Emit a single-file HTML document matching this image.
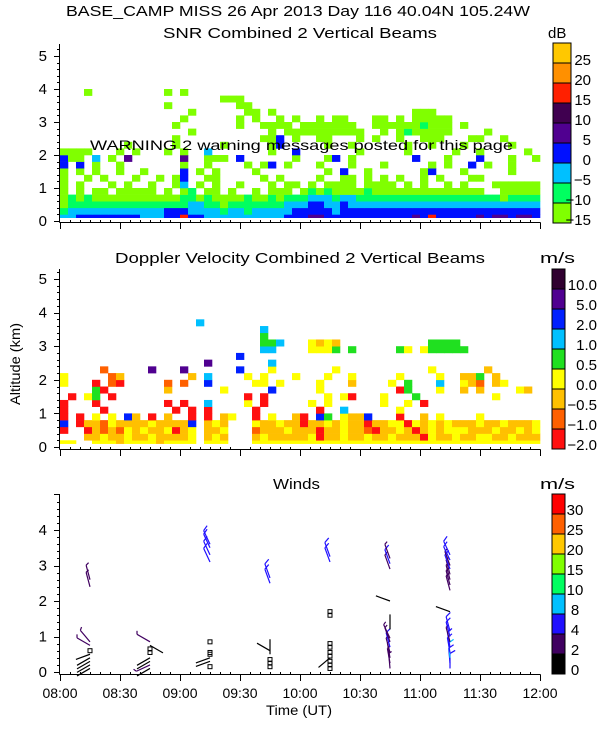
<!DOCTYPE html>
<html><head><meta charset="utf-8"><style>
html,body{margin:0;padding:0;background:#fff;}
svg{display:block;font-family:"Liberation Sans",sans-serif;}
</style></head><body>
<svg id="chart" width="600" height="750" viewBox="0 0 600 750" xmlns="http://www.w3.org/2000/svg">
<rect x="0" y="0" width="600" height="750" fill="#fff"/>
<text x="66" y="16" font-size="15" textLength="464" lengthAdjust="spacingAndGlyphs">BASE_CAMP MISS  26 Apr 2013 Day 116 40.04N 105.24W</text>
<text x="163" y="38" font-size="15" textLength="274" lengthAdjust="spacingAndGlyphs">SNR Combined 2 Vertical Beams</text>
<text x="115" y="263" font-size="15" textLength="370" lengthAdjust="spacingAndGlyphs">Doppler Velocity Combined 2 Vertical Beams</text>
<text x="273" y="489" font-size="15" textLength="47" lengthAdjust="spacingAndGlyphs">Winds</text>
<text x="548" y="38" font-size="15">dB</text>
<text x="540" y="263" font-size="15" textLength="35" lengthAdjust="spacingAndGlyphs">m/s</text>
<text x="540" y="489" font-size="15" textLength="35" lengthAdjust="spacingAndGlyphs">m/s</text>
<text transform="translate(20,405) rotate(-90)" font-size="14" textLength="82" lengthAdjust="spacingAndGlyphs">Altitude (km)</text>
<text x="266" y="715" font-size="14" textLength="66" lengthAdjust="spacingAndGlyphs">Time (UT)</text>
<g id="layer"></g>
<text x="90" y="150" font-size="14" textLength="423" lengthAdjust="spacingAndGlyphs">WARNING  2 warning messages posted for this page</text>
</svg>
<script>
// ---------- data ----------
const timeTicks = ["08:00","08:30","09:00","09:30","10:00","10:30","11:00","11:30","12:00"];
const snrLevels = ["25","20","15","10","5","0","\u22125","\u221210","\u221215"];
const snrColors = ["#80ff00","#00ff60","#00c0ff","#0010ff","#500090","#400050","#ff2000","#ff9000","#ffc800"];
const velLevels = ["10.0","5.0","2.0","1.0","0.5","0.0","\u22120.5","\u22121.0","\u22122.0"];
const velColors = ["#ff1010","#ff6000","#ffc000","#ffff00","#20e020","#00c0ff","#0020ff","#500090","#300030"];
const windLevels = ["30","25","20","15","10","8","4","2","0"];
const windColors = ["#000000","#400060","#2010ff","#00c0ff","#00ff60","#80ff00","#ffc800","#ff6000","#ff0000"];
const windBins = [0,2,4,8,10,15,20,25,30];
// heatmap rows: index 0 = 0.0-0.2 km; each char = 4-minute column, digit = colour level, '.' = no data
const snrRows = [
"2233333333"+"2223363322"+"2222222233"+"3443333333"+"3333436333"+"3343443443",
"1222222222"+"2223332222"+"1221222223"+"3333233333"+"3333333333"+"3333333333",
"0111111111"+"1111112211"+"0111111122"+"2332232222"+"2222222222"+"2222222222",
"0101000000"+"0000011010"+"0001001011"+"1222122111"+"1111111111"+"1111101111",
"0.0.00.000"+"00.0.01.00"+".0..0.000."+"0101000010"+"0000000000"+"000..00000",
"0.0...0.0."+".0..02.0.0"+"..0...0.00"+".0.0000.00"+"00.0.0..0."+"0...000000",
"0..0.0...0"+"..0.03..00"+".....0.0.."+"..0..00.0."+"0.0..0.0.."+".00.......",
"0.0.0..0.."+"0....3.0.0"+"....0....."+"...0.3..0."+".....03..."+"0.....0...",
"3.3.0..0.."+".....0..0."+"...0.03.0."+"..0...0..."+"0.....0.0."+".3.0..0...",
"300.2.0.4."+".....4..00"+"0.3......0"+"...03.0..."+"....3...0."+"..3...0..0",
"0000...0.0"+"...0.0..2."+"......0..3"+".......0.."+"...0.....0"+"..0.....0.",
"........0."+"....0....."+"0.....03.."+"...0..0..."+"...0..0..."+"0.....0...",
".........."+"....0....."+".....003.0"+"..00...0.0"+"..0..000.."+".00..0....",
".........."+"......0..."+"......0.00"+"00000000.."+"0.0100000."+"...0......",
".........."+"....0....."+"..0..0000."+"0000000..0"+"000001000."+"0.........",
".........."+".....0...."+"..0.0..0.0"+"..0.00...0"+"0.0.00000."+"..........",
".........."+"......0..."+"...00.0..."+".........."+"....000..."+"..........",
".........."+"...0......"+"..00......",
"...................."+"000",
"...0......"+"...0.0...."
];
const velRows = [
"33..333233"+"3323333.33"+"3...333333"+"3333333333"+"3333333333"+"3333333333",
"...2232232"+"2322223.23"+"2...232222"+"2302232232"+"2322203223"+"2233223222",
"0..0212132"+"3223023.22"+"3...122232"+"2202232210"+"2232023233"+"3222322323",
"6.02213222"+"2322226.23"+"2...322322"+"0223232202"+"2330323232"+"2232232223",
"0.0.3.3.62"+".0.2..0.0."+"23..0.3..2"+"0.64.3226."+"..0..2.3.."+"..3.......",
"0....0...."+"....0.0.0."+"....0....."+"..0..5...."+"..3......."+"..........",
"0...0....."+"...0.0..5."+"...3.0...."+".3.3......"+"3..3.0...."+"..........",
".0.34.0..."+".........."+"...0.0...."+"...3.30..."+"3...4....."+"....3.....",
"....40...."+"...2......"+"3.....6..."+"..3......."+"..04...3.."+"2.2....32.",
"3...0.10.."+"...1.1..6."+"....33.3.."+"..3...2..."+".3.4...5.."+"321.23....",
"3.....12.."+"......2.5."+"...3.3...3"+"...3..3..."+"..3....3.."+"224.2.....",
".....1...."+".7...7...."+"..6...3..."+"....3....."+"......3..."+"...2......",
".........."+"........7."+"......5..."+".........."+".........."+"..........",
"......................6",
".........."+".........."+".....55..."+".3334.4..."+"..43.34444"+"4.........",
".........."+".........."+".....445.."+".3232....."+"......4444"+"..........",
".........."+".........."+".....4....",
".........."+".........."+".....5....",
".........."+".......5.."
];
// winds: time (h), height (km), speed (m/s), direction (deg, from)
const windTime = [8.25,8.25,8.25,8.25,8.25,8.25,8.25,8.25,8.25,8.25,
 8.75,8.75,8.75,8.75,8.75,8.75,8.75,8.75,
 9.25,9.25,9.25,9.25,9.25,9.25,9.25,9.25,9.25,9.25,
 9.75,9.75,9.75,9.75,9.75,9.75,9.75,
 10.25,10.25,10.25,10.25,10.25,10.25,10.25,10.25,10.25,10.25,10.25,10.25,
 10.75,10.75,10.75,10.75,10.75,10.75,10.75,10.75,10.75,10.75,10.75,10.75,
 11.25,11.25,11.25,11.25,11.25,11.25,11.25,11.25,11.25,11.25,11.25,11.25,11.25,11.25,11.25,11.25,11.25];
const windHeight = [0.1,0.2,0.3,0.4,0.5,0.6,0.75,0.85,2.4,2.6,
 0.1,0.2,0.3,0.4,0.55,0.65,0.75,0.85,
 0.15,0.3,0.4,0.5,0.55,0.85,3.1,3.3,3.5,3.6,
 0.15,0.25,0.35,0.5,0.6,2.5,2.65,
 0.1,0.2,0.3,0.4,0.45,0.55,0.7,0.8,1.6,1.7,3.1,3.25,
 0.1,0.25,0.4,0.55,0.7,0.85,0.95,1.2,2.0,2.9,3.05,3.2,
 0.1,0.25,0.4,0.55,0.7,0.85,1.0,1.15,1.7,2.3,2.45,2.6,2.75,2.9,3.0,3.15,3.3];
const windSpeed = [1.5,1.5,1.5,1.5,1.5,0,3,3,3,3,
 1.5,3,1.5,1.5,0,0,1.5,3,
 0,1.5,1.5,0,0,0,5,5,5,5,
 0,0,0,1.5,1.5,5,5,
 0,0,0,1.5,0,0,0,0,0,0,5,5,
 3,3,3,3,5,3,3,1.5,1.5,3,5,3,
 5,5,8,5,5,3,5,5,1.5,3,3,3,3,5,3,5,5];
const windDir = [240,240,240,240,250,0,300,320,345,345,
 240,245,240,240,0,0,120,300,
 0,250,250,0,0,0,335,335,335,335,
 0,0,0,0,300,340,340,
 0,0,0,230,0,0,0,0,0,0,340,340,
 355,350,350,345,345,340,335,0,290,340,340,340,
 0,355,355,350,350,345,345,345,290,345,345,345,345,340,340,335,335];

// ---------- layout ----------
const NS="http://www.w3.org/2000/svg";
const layer=document.getElementById('layer');
const X0=60,X1=540;
function xs(h){return X0+(h-8)*(X1-X0)/4;}
const panels=[
 {name:'snr',top:44,y0:221,k:33,axis:222,ticks:[0,1,2,3,4,5],maxKm:5.35},
 {name:'velocity',top:269,y0:447,k:33.6,axis:449,ticks:[0,1,2,3,4,5],maxKm:5.3},
 {name:'winds',top:495,y0:672,k:35.5,axis:674,ticks:[0,1,2,3,4],maxKm:5}
];
function mk(tag,attrs,parent){const e=document.createElementNS(NS,tag);for(const a in attrs)e.setAttribute(a,attrs[a]);(parent||layer).appendChild(e);return e;}

function drawHeat(p,rows,colors,nm){
 const g=mk('g',{});
 
 
 const floor=0.1;
 rows.forEach((row,r)=>{
  for(let c=0;c<60;c++){
   const ch=row[c]; if(!ch||ch==='.')continue;
   const lo=Math.max(r*0.2,floor), hi=(r+1)*0.2;
   const yTop=p.y0-hi*p.k, yBot=p.y0-lo*p.k;
   const xa=xs(8+c*4/60), xb=xs(8+(c+1)*4/60);
   const rc=mk('rect',{x:xa,y:yTop,width:xb-xa+0.3,height:yBot-yTop+0.3,fill:colors[+ch]},g);
   
   
  }
 });
}
drawHeat(panels[0],snrRows,snrColors,'snr');
drawHeat(panels[1],velRows,velColors,'velocity');

// axes
panels.forEach((p,pi)=>{
 const g=mk('g',{stroke:'#000','stroke-width':1,fill:'none'});
 
 
 mk('line',{x1:X0-0.5,y1:p.top,x2:X0-0.5,y2:p.axis+0.5},g);
 mk('line',{x1:X0-0.5,y1:p.axis+0.5,x2:X1+0.5,y2:p.axis+0.5},g);
 mk('line',{x1:X1+0.5,y1:p.axis+0.5,x2:X1+0.5,y2:p.axis+7},g);
 for(let v=0;v<=p.maxKm+1e-6;v+=0.2){
  const y=Math.round(p.y0-v*p.k)+0.5;
  const major=Math.abs(v-Math.round(v))<1e-6;
  mk('line',{x1:X0-(major?6:3),y1:y,x2:X0,y2:y},g);
 }
 p.ticks.forEach(t=>{
  const tx=mk('text',{x:47,y:p.y0-t*p.k+5,'font-size':15,'text-anchor':'end',fill:'#000',stroke:'none'});
  tx.textContent=t;
  
  
 });
 for(let m=0;m<=240;m+=5){
  const x=Math.round(xs(8+m/60))+0.5;
  const major=m%30===0;
  mk('line',{x1:x,y1:p.axis+0.5,x2:x,y2:p.axis+(major?7:-2)},g);
 }
});
timeTicks.forEach((lab,i)=>{
 const t=mk('text',{x:xs(8+i*0.5),y:698,'font-size':14,'text-anchor':'middle'});
 t.textContent=lab;
 
 
});

// colorbars (colour arrays are bottom-first)
function colorbar(nm,x,w,top,seg,colors,labels,lx,anchor,ly0){
 const g=mk('g',{});
 
 
 const n=colors.length;
 for(let i=0;i<n;i++){
  const r=mk('rect',{x:x,y:top+i*seg,width:w,height:seg,fill:colors[n-1-i],stroke:'#000','stroke-width':1},g);
  
  
 }
 labels.forEach((lab,i)=>{
  const t=mk('text',{x:lx,y:ly0+i*20+5,'font-size':15,'text-anchor':anchor},g);
  t.textContent=lab;
  
  
 });
}
colorbar('snr',553,18,43,20,snrColors,snrLevels,591,'end',60);
colorbar('velocity',552,13,269,20,velColors,velLevels,597,'end',285);
colorbar('winds',552,13,494,20,windColors,windLevels,575,'middle',510);

// wind barbs
const wp=panels[2];
function windColor(s){let i=0;for(let b=0;b<windBins.length;b++)if(s>=windBins[b])i=b;return windColors[i];}
const wg=mk('g',{});


windTime.forEach((t,i)=>{
 const x=xs(t), y=wp.y0-windHeight[i]*wp.k, s=windSpeed[i], d=windDir[i]*Math.PI/180;
 if(s<1){
  const q=mk('rect',{x:x-2,y:y-2,width:4,height:4,fill:'none',stroke:'#000','stroke-width':1},wg);
  
  
  return;
 }
 const col=windColor(s), L=15;
 const ex=x+Math.sin(d)*L, ey=y-Math.cos(d)*L;
 const b=mk('g',{stroke:col,'stroke-width':1.2,fill:'none'},wg);
 
 
 mk('line',{x1:x,y1:y,x2:ex,y2:ey},b);
 if(s>=2.5){
  const bl=s>=5?6:3.5, a=d+Math.PI/3;
  mk('line',{x1:ex,y1:ey,x2:ex+Math.sin(a)*bl,y2:ey-Math.cos(a)*bl},b);
 }
});
</script>
</body></html>
